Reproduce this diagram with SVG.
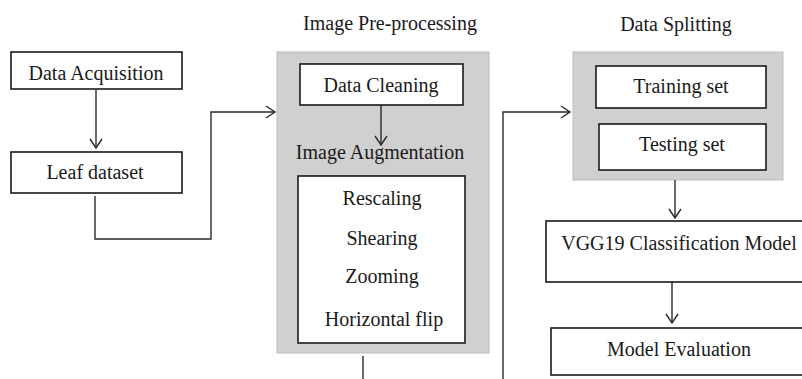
<svg xmlns="http://www.w3.org/2000/svg" width="802" height="379" viewBox="0 0 802 379">
  <style>
    text { font-family: "Liberation Serif", "Times New Roman", serif; font-size: 20px; fill: #1a1a1a; text-anchor: middle; }
    .box { fill: #ffffff; stroke: #1a1a1a; stroke-width: 1.6; }
    .panel { fill: #d0d0d0; stroke: #bdbdbd; stroke-width: 1; }
    .wire { fill: none; stroke: #2a2a2a; stroke-width: 1.4; }
    .head { fill: none; stroke: #2a2a2a; stroke-width: 1.4; stroke-linejoin: miter; }
  </style>
  <rect width="802" height="379" fill="#ffffff"/>

  <!-- panels -->
  <g id="preprocessing">
    <text x="390" y="30">Image Pre-processing</text>
    <rect class="panel" x="277" y="52" width="212" height="301"/>
  </g>
  <g id="splitting">
    <text x="676" y="31">Data Splitting</text>
    <rect class="panel" x="573" y="52" width="210" height="128"/>
  </g>

  <!-- connectors -->
  <g id="connectors">
    <path class="wire" d="M96 90 V147"/>
    <path class="head" d="M90 139 L96 148 L102 139"/>
    <path class="wire" d="M95 196 V239 H211 V112 H274"/>
    <path class="head" d="M266 106 L275 112 L266 118"/>
    <path class="wire" d="M381 105 V144"/>
    <path class="head" d="M375 136 L381 145 L387 136"/>
    <path class="wire" d="M363 356 V379"/>
    <path class="wire" d="M503 379 V112 H569"/>
    <path class="head" d="M561 106 L570 112 L561 118"/>
    <path class="wire" d="M675 180 V217"/>
    <path class="head" d="M669 209 L675 218 L681 209"/>
    <path class="wire" d="M672 282 V322"/>
    <path class="head" d="M666 314 L672 323 L678 314"/>
  </g>

  <!-- nodes -->
  <g id="data-acquisition">
    <rect class="box" x="11" y="52" width="171" height="37"/>
    <text x="96" y="80">Data Acquisition</text>
  </g>
  <g id="leaf-dataset">
    <rect class="box" x="11" y="152" width="171" height="41"/>
    <text x="95" y="179">Leaf dataset</text>
  </g>
  <g id="data-cleaning">
    <rect class="box" x="300" y="64" width="163" height="41"/>
    <text x="381" y="92">Data Cleaning</text>
  </g>
  <g id="image-augmentation">
    <text x="380" y="159">Image Augmentation</text>
    <rect class="box" x="298" y="176" width="167" height="167"/>
    <text x="382" y="205">Rescaling</text>
    <text x="382" y="245">Shearing</text>
    <text x="382" y="283">Zooming</text>
    <text x="384" y="326">Horizontal flip</text>
  </g>
  <g id="training-set">
    <rect class="box" x="596" y="66" width="170" height="42"/>
    <text x="681" y="93">Training set</text>
  </g>
  <g id="testing-set">
    <rect class="box" x="599" y="124" width="167" height="46"/>
    <text x="682" y="151">Testing set</text>
  </g>
  <g id="vgg19">
    <rect class="box" x="546" y="221" width="264" height="61"/>
    <text x="679" y="250">VGG19 Classification Model</text>
  </g>
  <g id="model-evaluation">
    <rect class="box" x="551" y="328" width="259" height="47"/>
    <text x="679" y="356">Model Evaluation</text>
  </g>
</svg>
